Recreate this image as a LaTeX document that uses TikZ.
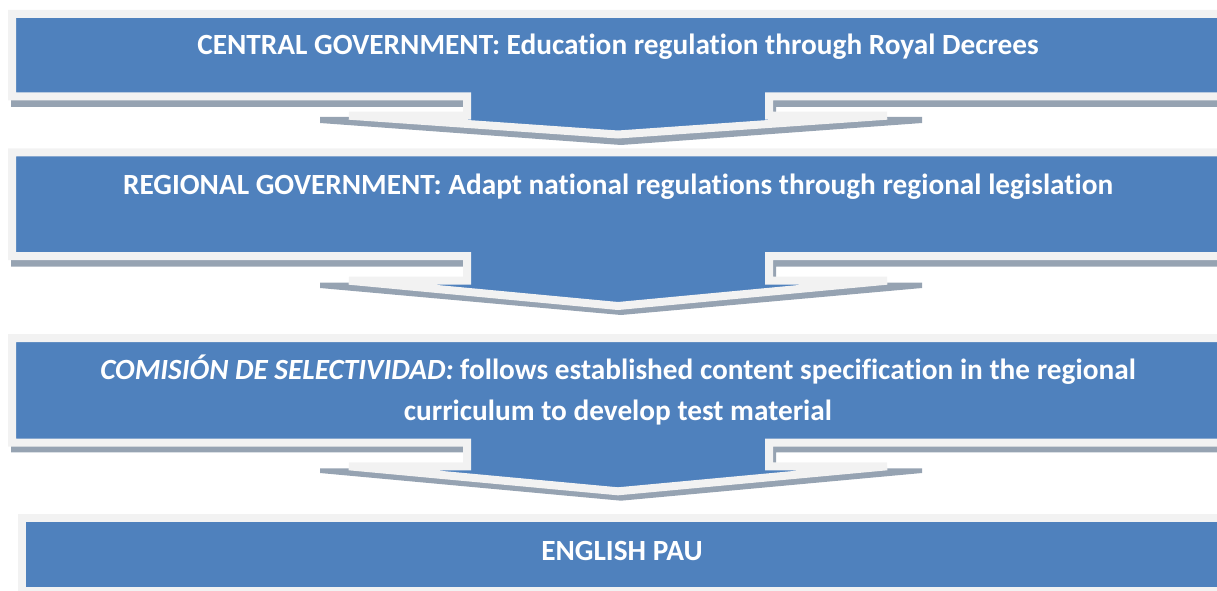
\documentclass[tikz,border=0pt]{standalone}
\usepackage{fontspec}
\setmainfont{Carlito}[Ligatures=NoCommon]
\definecolor{myblue}{HTML}{4F81BD}
\definecolor{mylight}{HTML}{F2F2F2}
\definecolor{myshadow}{RGB}{150,163,178}
\tikzset{
  boxshape/.style={fill=myblue, draw=mylight, line width=8pt, line join=miter, miter limit=10},
  shadowshape/.style={fill=myshadow, draw=none},
  lbl/.style={text=white, font=\fontsize{29.3}{41}\selectfont\bfseries, inner sep=0pt, anchor=base}
}
\begin{document}
\begin{tikzpicture}[x=1pt,y=-1pt]
\useasboundingbox (0,0) rectangle (1217,591);
\clip (0,0) rectangle (1217,591);
% step 1
\fill[shadowshape] (11,16) -- (1231,16) -- (1231,107) -- (776,107) -- (776,117) -- (922,117) -- (922,123) -- (621,145) -- (320,123) -- (320,117) -- (466,117) -- (466,107) -- (11,107) -- cycle;
\draw[boxshape] (12,14) -- (1226,14) -- (1226,96.5) -- (769,96.5) -- (769,115.7) -- (887,115.7) -- (618,134.5) -- (349,115.7) -- (467,115.7) -- (467,96.5) -- (12,96.5) -- cycle;
% step 2
\fill[shadowshape] (11,154.3) -- (1231,154.3) -- (1231,266.7) -- (776,266.7) -- (776,282.5) -- (922,282.5) -- (922,288) -- (621,315) -- (320,288) -- (320,282.5) -- (466,282.5) -- (466,266.7) -- (11,266.7) -- cycle;
\draw[boxshape] (12,152.3) -- (1226,152.3) -- (1226,256) -- (769,256) -- (769,280.7) -- (887,280.7) -- (618,306) -- (349,280.7) -- (467,280.7) -- (467,256) -- (12,256) -- cycle;
% step 3
\fill[shadowshape] (11,340) -- (1231,340) -- (1231,452.3) -- (776,452.3) -- (776,468.3) -- (922,468.3) -- (922,473) -- (621,500.7) -- (320,473) -- (320,468.3) -- (466,468.3) -- (466,452.3) -- (11,452.3) -- cycle;
\draw[boxshape] (12,338) -- (1226,338) -- (1226,442.5) -- (769,442.5) -- (769,466.3) -- (887,466.3) -- (618,491.3) -- (349,466.3) -- (467,466.3) -- (467,442.5) -- (12,442.5) -- cycle;
% step 4
\draw[boxshape] (22,518.3) rectangle (1222,591);
% texts
\node[lbl] (t1) at (618,55) {CENTRAL GOVERNMENT: Education regulation through Royal Decrees};
\node[lbl] (t2) at (618,194) {REGIONAL GOVERNMENT: Adapt national regulations through regional legislation};
\node[lbl] (t3a) at (618,379.3) {\textit{COMISIÓN DE SELECTIVIDAD:} follows established content specification in the regional};
\node[lbl] (t3b) at (618,420.3) {curriculum to develop test material};
\node[lbl] (t4) at (622,560) {ENGLISH PAU};
\end{tikzpicture}
\end{document}
